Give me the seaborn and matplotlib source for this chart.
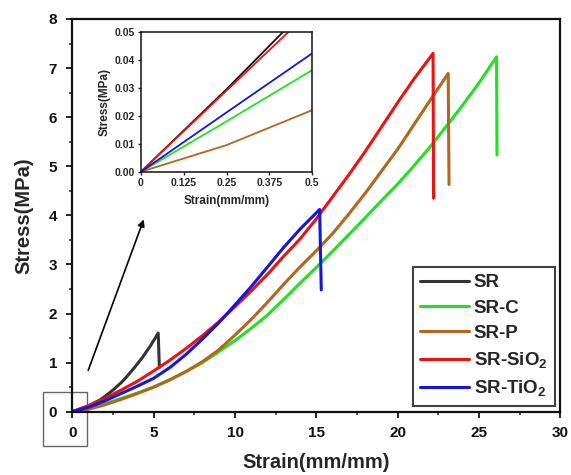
import numpy as np
import pandas as pd
import matplotlib
matplotlib.use("Agg")
import matplotlib.pyplot as plt
from matplotlib.patches import Rectangle
import seaborn as sns

# ---- data: stress-strain curves (main panel) ----
sr_strain = [0, 1, 1.7, 2.0, 2.5, 3.0, 3.34, 3.8, 4.3, 4.8, 5.28, 5.35]
sr_stress = [0, 0.12, 0.24, 0.31, 0.44, 0.59, 0.71, 0.89, 1.10, 1.34, 1.60, 0.90]

c_strain = [0, 1, 2, 3, 4, 5, 6, 7, 8, 9, 10, 11, 12, 13, 14, 15, 16, 17, 18,
            19, 20, 21, 22, 23, 24, 25, 26.07, 26.1]
c_stress = [0, 0.07, 0.16, 0.27, 0.38, 0.50, 0.65, 0.82, 1.00, 1.22, 1.45, 1.70,
            1.97, 2.29, 2.62, 2.94, 3.27, 3.61, 3.95, 4.30, 4.64, 5.01, 5.40,
            5.82, 6.25, 6.70, 7.23, 5.23]

p_strain = [0, 1, 2, 3, 4, 5, 6, 7, 8, 9, 10, 11, 12, 13, 14, 15, 16, 17, 18,
            19, 20, 21, 22, 23.1, 23.15]
p_stress = [0, 0.05, 0.14, 0.25, 0.37, 0.50, 0.65, 0.82, 1.02, 1.26, 1.56, 1.88,
            2.23, 2.60, 2.95, 3.28, 3.63, 4.03, 4.45, 4.90, 5.35, 5.85, 6.35,
            6.89, 4.63]

sio2_strain = [0, 1, 2, 3, 4, 5, 6, 7, 8, 9, 10, 11, 12, 13, 14, 15, 16, 17, 18,
               19, 20, 21, 22.17, 22.2]
sio2_stress = [0, 0.12, 0.27, 0.44, 0.62, 0.83, 1.05, 1.29, 1.55, 1.83, 2.14,
               2.46, 2.80, 3.17, 3.52, 3.93, 4.38, 4.83, 5.30, 5.80, 6.30, 6.78,
               7.30, 4.35]

tio2_strain = [0, 1, 2, 3, 4, 5, 6, 7, 8, 9, 9.9, 11, 12, 13, 14, 15.2, 15.3]
tio2_stress = [0, 0.09, 0.22, 0.37, 0.52, 0.68, 0.90, 1.17, 1.48, 1.81, 2.14,
               2.55, 2.95, 3.35, 3.72, 4.12, 2.48]

# ---- data: initial region (inset) ----
inset_strain = [0, 0.25, 0.5]
inset_sr = [0, 0.0295, 0.0605]
inset_c = [0, 0.0180, 0.0363]
inset_p = [0, 0.0095, 0.0220]
inset_sio2 = [0, 0.0290, 0.0580]
inset_tio2 = [0, 0.0212, 0.0423]

labels = ["SR", "SR-C", "SR-P", r"SR-SiO$_2$", r"SR-TiO$_2$"]
colors = ["#333333", "#22e022", "#b5651d", "#ee1111", "#1515dd"]

x_ticks = [0, 5, 10, 15, 20, 25, 30]
y_ticks = [0, 1, 2, 3, 4, 5, 6, 7, 8]
inset_x_ticks = [0, 0.125, 0.25, 0.375, 0.5]
inset_x_labels = ["0", "0.125", "0.25", "0.375", "0.5"]
inset_y_ticks = [0, 0.01, 0.02, 0.03, 0.04, 0.05]

sns.set_theme(style="ticks")
plt.rcParams["font.family"] = ["Liberation Sans", "DejaVu Sans"]
plt.rcParams["font.weight"] = "bold"
plt.rcParams["axes.labelweight"] = "bold"
plt.rcParams["mathtext.fontset"] = "custom"
plt.rcParams["mathtext.rm"] = "Liberation Sans:bold"
plt.rcParams["mathtext.it"] = "Liberation Sans:bold"
plt.rcParams["mathtext.bf"] = "Liberation Sans:bold"
plt.rcParams["mathtext.default"] = "rm"

fig = plt.figure(figsize=(5.71, 4.75), dpi=100)
ax = fig.add_axes([0.1266, 0.1333, 0.855, 0.8267])

main_series = [
    (sr_strain, sr_stress),
    (c_strain, c_stress),
    (p_strain, p_stress),
    (sio2_strain, sio2_stress),
    (tio2_strain, tio2_stress),
]
for (xs, ys), lab, col in zip(main_series, labels, colors):
    df = pd.DataFrame({"strain": xs, "stress": ys})
    sns.lineplot(data=df, x="strain", y="stress", sort=False, estimator=None,
                 color=col, lw=2.2, label=lab, ax=ax)

ax.set_xlim(0, 30)
ax.set_ylim(0, 8)
ax.set_xticks(x_ticks)
ax.set_yticks(y_ticks)
ax.set_xticks(np.arange(2.5, 30, 5), minor=True)
ax.set_yticks(np.arange(0.5, 8, 1), minor=True)
ax.tick_params(which="major", direction="out", length=4, width=1.3,
               labelsize=11, colors="#111111")
ax.tick_params(axis="x", which="major", pad=6.5)
ax.tick_params(axis="y", which="major", pad=7)
ax.tick_params(which="minor", direction="out", length=2.5, width=1.1)
for t in ax.get_xticklabels() + ax.get_yticklabels():
    t.set_fontweight("bold")
for s in ax.spines.values():
    s.set_linewidth(1.6)
    s.set_color("#111111")
    s.set_visible(True)
ax.set_xlabel("Strain(mm/mm)", fontsize=14.5, fontweight="bold", labelpad=9)
ax.set_ylabel("Stress(MPa)", fontsize=14.5, fontweight="bold", labelpad=11)

leg = ax.legend(loc="lower right", bbox_to_anchor=(0.9887, 0.0145),
                borderaxespad=0, fancybox=False, frameon=True,
                edgecolor="#111111", handlelength=2.6, handletextpad=0.25,
                labelspacing=0.44, borderpad=0.4,
                prop={"size": 13.5, "weight": "bold"})
leg.get_frame().set_linewidth(1.5)
for line in leg.get_lines():
    line.set_linewidth(2.2)

# zoom marker around the origin and pointer to the inset
ax.add_patch(Rectangle((-1.82, -0.70), 2.70, 1.11, fill=False,
                       edgecolor="#666666", lw=1.0, clip_on=False))
ax.annotate("", xy=(4.45, 3.97), xytext=(0.92, 0.79),
            arrowprops=dict(arrowstyle="-|>", color="black", lw=1.2,
                            mutation_scale=10))

# ---- inset ----
axin = fig.add_axes([0.2469, 0.6385, 0.30, 0.2947])
inset_series = [inset_sr, inset_c, inset_p, inset_sio2, inset_tio2]
inset_colors = ["#111111", "#22e022", "#b5651d", "#ee1111", "#1515dd"]
for ys, col in zip(inset_series, inset_colors):
    df = pd.DataFrame({"strain": inset_strain, "stress": ys})
    sns.lineplot(data=df, x="strain", y="stress", sort=False, estimator=None,
                 color=col, lw=1.3, ax=axin, legend=False)
axin.set_xlim(0, 0.5)
axin.set_ylim(0, 0.05)
axin.set_xticks(inset_x_ticks)
axin.set_xticklabels(inset_x_labels)
axin.set_yticks(inset_y_ticks)
axin.set_yticklabels([f"{v:.2f}" for v in inset_y_ticks])
axin.tick_params(direction="out", length=2.5, width=1.0, labelsize=7.5, pad=2)
for t in axin.get_xticklabels() + axin.get_yticklabels():
    t.set_fontweight("bold")
for s in axin.spines.values():
    s.set_linewidth(1.1)
    s.set_color("#111111")
axin.set_xlabel("Strain(mm/mm)", fontsize=8.5, fontweight="bold", labelpad=5)
axin.set_ylabel("Stress(MPa)", fontsize=8.5, fontweight="bold", labelpad=3)

fig.savefig("out.png", dpi=100)
